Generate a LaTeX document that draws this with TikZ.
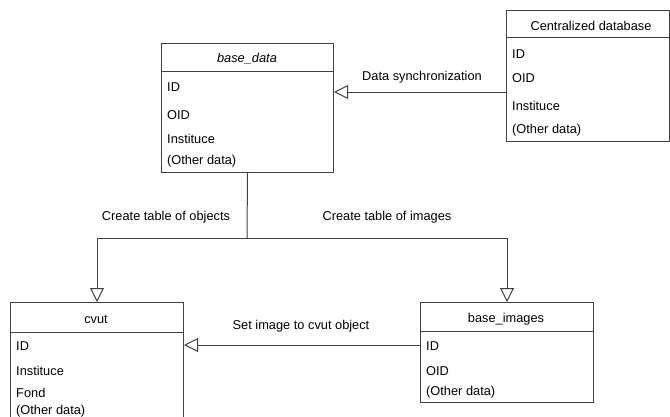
\documentclass[tikz,border=0pt]{standalone}
\usepackage{fontspec}
\setmainfont{Liberation Sans}
\usetikzlibrary{arrows.meta, positioning}
\tikzstyle{entity} = [rectangle, draw=black!75, line width=1pt, anchor=north west, inner sep=0]
\tikzstyle{divider} = [draw=black!75, line width=1pt]
\tikzstyle{field} = [anchor=west, inner sep=0]
\tikzstyle{caption} = [inner sep=0]
\tikzstyle{link} = [draw=black!75, line width=1pt]
\tikzstyle{inherit} = [link, -{Triangle[open, length=14pt, width=14pt, fill=white]}]

\begin{document}
\begin{tikzpicture}[x=1pt, y=-1pt, font=\fontsize{12.8}{15}\selectfont]
				\useasboundingbox (0, 0) rectangle (670, 416);
				\clip (0, 0) rectangle (670, 416);

				% base_data
				\node (BaseData) [entity, minimum width=172pt, minimum height=129pt] at (161, 43) {};
				\draw [divider] ([yshift=-28pt]BaseData.north west) -- ([yshift=-28pt]BaseData.north east);
				\node (BaseDataName) [caption] at (247, 59) {\textit{base\_data}};
				\node (BaseDataID) [field] at (167, 87) {ID};
				\node (BaseDataOID) [field] at (167, 115) {OID};
				\node (BaseDataInst) [field] at (167, 139) {Instituce};
				\node (BaseDataOther) [field] at (167, 161) {(Other data)};

				% centralized database
				\node (Central) [entity, minimum width=163pt, minimum height=131pt] at (506, 10) {};
				\draw [divider] ([yshift=-27pt]Central.north west) -- ([yshift=-27pt]Central.north east);
				\node (CentralName) [caption] at (591, 26) {Centralized database};
				\node (CentralID) [field] at (512, 54) {ID};
				\node (CentralOID) [field] at (512, 78) {OID};
				\node (CentralInst) [field] at (512, 106) {Instituce};
				\node (CentralOther) [field] at (512, 130) {(Other data)};

				% cvut
				\node (Cvut) [entity, minimum width=173pt, minimum height=140pt] at (10, 302) {};
				\draw [divider] ([yshift=-30pt]Cvut.north west) -- ([yshift=-30pt]Cvut.north east);
				\node (CvutName) [caption] at (96, 319) {cvut};
				\node (CvutID) [field] at (16, 346) {ID};
				\node (CvutInst) [field] at (16, 371) {Instituce};
				\node (CvutFond) [field] at (16, 393) {Fond};
				\node (CvutOther) [field] at (16, 411) {(Other data)};

				% base_images
				\node (BaseImages) [entity, minimum width=173pt, minimum height=100pt] at (420, 302) {};
				\draw [divider] ([yshift=-29pt]BaseImages.north west) -- ([yshift=-29pt]BaseImages.north east);
				\node (BaseImagesName) [caption] at (506, 319) {base\_images};
				\node (BaseImagesID) [field] at (426, 346) {ID};
				\node (BaseImagesOID) [field] at (426, 371) {OID};
				\node (BaseImagesOther) [field] at (426, 392) {(Other data)};

				% synchronization
				\coordinate (SyncFrom) at (506, 92);
				\draw [inherit] (SyncFrom) -- (SyncFrom -| BaseData.east);
				\node (SyncLabel) [caption] at (422, 77) {Data synchronization};

				% table creation
				\coordinate (Split) at (247, 238);
				\draw [link] (BaseData.south) -- (Split);
				\draw [inherit] (Split) -| (Cvut.north);
				\draw [inherit] (Split) -| (BaseImages.north);
				\node (ObjectsLabel) [caption] at (166, 217) {Create table of objects};
				\node (ImagesLabel) [caption] at (387, 217) {Create table of images};

				% images to objects
				\coordinate (SetFrom) at (420, 345);
				\draw [inherit] (SetFrom) -- (SetFrom -| Cvut.east);
				\node (SetLabel) [caption] at (301, 326) {Set image to cvut object};
\end{tikzpicture}
\end{document}
